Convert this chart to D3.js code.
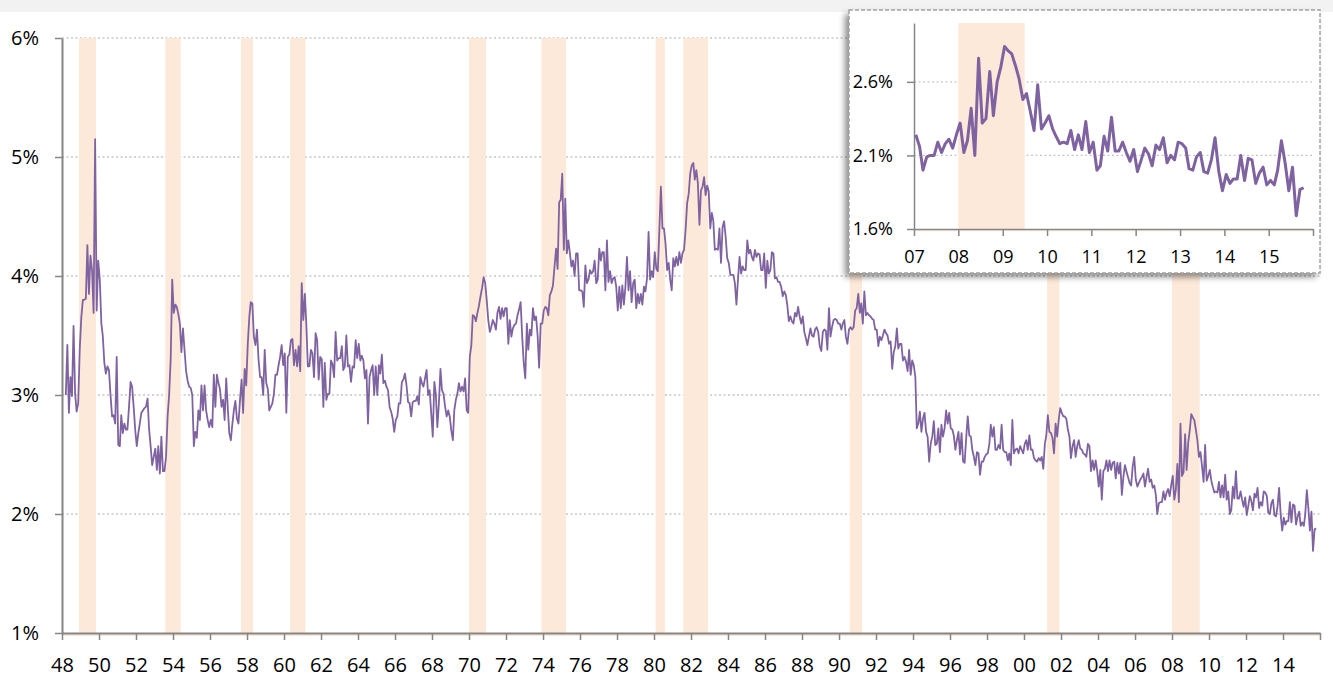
<!DOCTYPE html>
<html>
<head>
<meta charset="utf-8">
<script src="https://cdn.jsdelivr.net/npm/d3@7"></script>
<style>
  html, body { margin: 0; padding: 0; background: #fff; }
  svg { display: block; }
</style>
</head>
<body>
<svg id="chart" width="1333" height="677"></svg>
<script>
// monthly values, first one is March 1948
const firstYear = 1948
const firstMonth = 2
const rate = [
  3.00, 3.42, 2.85, 3.15, 2.99, 3.58, 3.01, 2.86, 2.93, 3.38, // 1948
  3.65, 3.80, 3.80, 3.81, 4.26, 3.85, 4.17, 4.05, 3.69, 5.15, 3.71, 4.13,
  3.97, 3.60, 3.50, 3.27, 3.18, 3.24, 3.21, 3.00, 2.82, 2.83, 2.76, 3.32, // 1950
  2.58, 2.57, 2.83, 2.68, 2.76, 2.71, 2.71, 2.90, 3.11, 3.07, 2.90, 2.71,
  2.57, 2.68, 2.76, 2.85, 2.87, 2.89, 2.90, 2.97, 2.71, 2.57, 2.41, 2.48,
  2.55, 2.37, 2.57, 2.34, 2.65, 2.36, 2.36, 2.48, 2.82, 3.00, 3.30, 3.97,
  3.69, 3.76, 3.74, 3.68, 3.60, 3.36, 3.56, 3.38, 3.20, 3.12, 3.07, 3.06,
  3.00, 2.57, 2.69, 2.64, 2.87, 2.79, 3.08, 2.87, 3.08, 2.87, 2.79, 2.73, // 1955
  2.79, 2.73, 3.17, 2.90, 3.17, 3.10, 3.05, 2.90, 2.96, 2.79, 3.14, 2.90,
  2.68, 2.62, 2.75, 2.87, 2.95, 2.80, 2.76, 2.96, 3.13, 2.85, 3.22, 3.08,
  3.43, 3.66, 3.78, 3.77, 3.49, 3.42, 3.55, 3.30, 3.15, 3.15, 3.00, 3.38,
  3.10, 3.05, 2.87, 2.90, 2.93, 3.01, 3.17, 3.17, 3.25, 3.32, 3.42, 3.25,
  3.35, 2.85, 3.32, 3.34, 3.46, 3.47, 3.25, 3.38, 3.24, 3.41, 3.20, 3.94, // 1960
  3.63, 3.85, 3.60, 3.24, 3.24, 3.38, 3.35, 3.15, 3.52, 3.46, 3.13, 3.32,
  3.30, 2.90, 3.27, 2.96, 3.01, 3.01, 3.29, 3.26, 3.15, 3.53, 3.29, 3.31,
  3.31, 3.41, 3.21, 3.24, 3.50, 3.24, 3.25, 3.11, 3.24, 3.23, 3.46, 3.31,
  3.43, 3.29, 3.33, 3.29, 3.14, 3.21, 2.76, 3.15, 3.21, 3.25, 3.00, 3.24,
  3.00, 3.25, 3.18, 3.34, 3.10, 3.12, 3.07, 3.04, 2.90, 2.86, 2.80, 2.69, // 1965
  2.79, 2.82, 2.93, 2.93, 3.11, 3.13, 3.18, 3.08, 2.94, 2.93, 2.82, 2.94,
  2.95, 2.95, 2.99, 2.92, 3.15, 3.10, 3.07, 3.14, 3.21, 3.00, 3.04, 2.85,
  2.65, 3.11, 3.01, 2.73, 2.93, 3.22, 3.04, 3.01, 2.90, 2.82, 2.87, 2.82,
  2.70, 2.62, 2.87, 2.96, 3.01, 3.10, 3.03, 3.07, 3.03, 3.14, 2.87, 2.85,
  3.32, 3.42, 3.67, 3.66, 3.62, 3.69, 3.75, 3.83, 3.90, 3.99, 3.94, 3.80, // 1970
  3.63, 3.53, 3.57, 3.63, 3.60, 3.55, 3.69, 3.74, 3.64, 3.73, 3.66, 3.73,
  3.73, 3.43, 3.63, 3.49, 3.56, 3.59, 3.60, 3.67, 3.72, 3.78, 3.49, 3.27,
  3.14, 3.60, 3.38, 3.55, 3.50, 3.73, 3.63, 3.66, 3.50, 3.23, 3.60, 3.60,
  3.71, 3.74, 3.73, 3.67, 3.84, 3.87, 3.92, 4.08, 4.23, 4.06, 4.62, 4.64,
  4.86, 4.22, 4.65, 4.19, 4.30, 4.19, 4.08, 4.13, 4.00, 4.19, 4.19, 3.88, // 1975
  3.88, 3.87, 3.74, 4.09, 3.94, 3.97, 4.05, 4.02, 4.04, 4.13, 3.94, 3.97,
  4.23, 4.13, 4.20, 4.20, 3.88, 4.30, 3.95, 4.04, 3.94, 3.98, 3.99, 3.91,
  3.71, 3.91, 3.73, 3.92, 3.76, 3.91, 4.16, 3.88, 4.04, 3.78, 3.94, 3.97,
  3.73, 3.85, 3.77, 3.85, 3.76, 3.91, 3.87, 3.98, 4.37, 3.97, 4.04, 3.99,
  4.20, 4.06, 4.04, 4.39, 4.75, 4.40, 4.40, 4.27, 4.05, 4.11, 3.97, 3.88, // 1980
  4.15, 4.08, 4.16, 4.09, 4.20, 4.11, 4.19, 4.22, 4.39, 4.61, 4.69, 4.86,
  4.93, 4.95, 4.81, 4.89, 4.78, 4.43, 4.72, 4.75, 4.83, 4.68, 4.76, 4.71,
  4.40, 4.53, 4.47, 4.22, 4.23, 4.22, 4.40, 4.11, 4.41, 4.46, 4.33, 4.15,
  4.11, 4.01, 4.01, 4.01, 3.94, 3.76, 3.97, 4.16, 4.02, 4.08, 4.05, 4.05,
  4.30, 4.19, 4.22, 4.16, 4.13, 4.22, 4.16, 4.19, 4.18, 4.05, 4.05, 4.19, // 1985
  3.90, 4.13, 4.02, 4.05, 4.20, 4.19, 3.98, 3.99, 3.95, 3.95, 3.91, 3.83,
  3.87, 3.84, 3.76, 3.62, 3.66, 3.62, 3.60, 3.69, 3.66, 3.74, 3.66, 3.60,
  3.66, 3.53, 3.48, 3.42, 3.49, 3.56, 3.50, 3.49, 3.55, 3.57, 3.53, 3.41,
  3.37, 3.53, 3.55, 3.54, 3.38, 3.73, 3.49, 3.57, 3.63, 3.64, 3.63, 3.60,
  3.60, 3.55, 3.60, 3.63, 3.49, 3.43, 3.55, 3.57, 3.55, 3.57, 3.71, 3.73, // 1990
  3.85, 3.69, 3.77, 3.60, 3.87, 3.67, 3.69, 3.67, 3.66, 3.64, 3.63, 3.55,
  3.55, 3.41, 3.49, 3.46, 3.50, 3.55, 3.52, 3.50, 3.43, 3.45, 3.22, 3.36,
  3.41, 3.56, 3.39, 3.43, 3.43, 3.29, 3.32, 3.28, 3.20, 3.38, 3.17, 3.29,
  3.25, 3.15, 2.72, 2.76, 2.86, 2.69, 2.80, 2.85, 2.69, 2.65, 2.44, 2.59,
  2.65, 2.78, 2.58, 2.59, 2.72, 2.52, 2.75, 2.65, 2.72, 2.87, 2.76, 2.85, // 1995
  2.72, 2.71, 2.66, 2.54, 2.62, 2.69, 2.50, 2.68, 2.44, 2.43, 2.64, 2.82,
  2.66, 2.65, 2.54, 2.48, 2.41, 2.52, 2.51, 2.33, 2.44, 2.44, 2.48, 2.50,
  2.51, 2.59, 2.75, 2.65, 2.73, 2.54, 2.54, 2.58, 2.55, 2.75, 2.54, 2.52,
  2.52, 2.45, 2.51, 2.41, 2.79, 2.51, 2.54, 2.55, 2.51, 2.57, 2.54, 2.51,
  2.59, 2.62, 2.54, 2.66, 2.54, 2.54, 2.47, 2.45, 2.44, 2.47, 2.45, 2.48, // 2000
  2.38, 2.59, 2.66, 2.83, 2.69, 2.68, 2.64, 2.51, 2.76, 2.65, 2.79, 2.89,
  2.85, 2.82, 2.82, 2.80, 2.71, 2.65, 2.47, 2.57, 2.62, 2.48, 2.57, 2.62,
  2.55, 2.54, 2.51, 2.50, 2.48, 2.59, 2.57, 2.36, 2.45, 2.37, 2.45, 2.36,
  2.23, 2.37, 2.12, 2.36, 2.38, 2.45, 2.36, 2.45, 2.37, 2.43, 2.44, 2.30,
  2.43, 2.34, 2.43, 2.16, 2.31, 2.41, 2.36, 2.31, 2.26, 2.24, 2.40, 2.48, // 2005
  2.29, 2.23, 2.26, 2.29, 2.31, 2.34, 2.23, 2.31, 2.38, 2.27, 2.29, 2.22,
  2.24, 2.16, 2.00, 2.09, 2.10, 2.10, 2.19, 2.12, 2.18, 2.21, 2.15, 2.24,
  2.32, 2.12, 2.20, 2.42, 2.10, 2.76, 2.32, 2.35, 2.67, 2.37, 2.60, 2.70,
  2.84, 2.81, 2.79, 2.71, 2.62, 2.48, 2.52, 2.40, 2.27, 2.58, 2.28, 2.32,
  2.37, 2.28, 2.23, 2.18, 2.19, 2.18, 2.27, 2.14, 2.24, 2.14, 2.33, 2.12, // 2010
  2.19, 2.00, 2.03, 2.23, 2.13, 2.36, 2.13, 2.13, 2.19, 2.12, 2.06, 2.14,
  1.99, 2.07, 2.15, 2.11, 2.03, 2.17, 2.14, 2.22, 2.05, 2.10, 2.07, 2.19,
  2.18, 2.15, 2.01, 2.00, 2.09, 2.12, 1.99, 1.98, 2.07, 2.22, 1.99, 1.86,
  1.97, 1.91, 1.94, 1.94, 2.10, 1.93, 2.08, 2.07, 1.91, 1.98, 2.02, 1.90,
  1.93, 1.90, 2.00, 2.20, 2.05, 1.86, 2.02, 1.69, 1.87, 1.88 // 2015
]

// recessions: first and last shaded month
const recessions = [
  ["1948-12", "1949-10"], ["1953-08", "1954-05"], ["1957-09", "1958-04"],
  ["1960-05", "1961-02"], ["1970-01", "1970-11"], ["1973-12", "1975-03"],
  ["1980-02", "1980-07"], ["1981-08", "1982-11"], ["1990-08", "1991-03"],
  ["2001-04", "2001-11"], ["2008-01", "2009-06"]
]

const yTicks = [1, 2, 3, 4, 5, 6]
const xTickYears = d3.range(1948, 2017, 2)
const insetYTicks = [1.6, 2.1, 2.6]
const insetYears = d3.range(2007, 2017)

const purple = "#7f63a1"
const shade = "#fde9d9"
const axisGray = "#868686"
const gridGray = "#c6c6c6"
const font = "'Open Sans', 'Noto Sans', sans-serif"

const svg = d3.select("#chart")
const parseMonth = d3.timeParse("%Y-%m")
const series = rate.map((v, i) => ({date: new Date(firstYear, firstMonth + i, 16), value: v}))
const spans = recessions.map(([a, b]) => {
  const s = parseMonth(a), e = parseMonth(b)
  return {start: s, end: new Date(e.getFullYear(), e.getMonth() + 1, 1)}
})

// grey strip along the top
svg.append("rect").attr("width", 1333).attr("height", 12).attr("fill", "#f2f2f2")

// ---------- main chart ----------
const x = d3.scaleTime().domain([new Date(1948, 0, 1), new Date(2016, 0, 1)]).range([62, 1320])
const y = d3.scaleLinear().domain([1, 6]).range([633, 38])

svg.append("g")
  .selectAll("line")
  .data(yTicks.filter(d => d > 1))
  .join("line")
  .attr("x1", 62).attr("x2", 1320)
  .attr("y1", d => y(d)).attr("y2", d => y(d))
  .attr("stroke", gridGray).attr("stroke-width", 1.3).attr("stroke-dasharray", "2,2.5")

svg.append("g")
  .selectAll("rect")
  .data(spans)
  .join("rect")
  .attr("x", d => x(d.start))
  .attr("width", d => x(d.end) - x(d.start))
  .attr("y", y(6))
  .attr("height", y(1) - y(6) + 3)
  .attr("fill", shade)

svg.append("line").attr("x1", 62).attr("x2", 1320).attr("y1", 635).attr("y2", 635)
  .attr("stroke", shade).attr("stroke-width", 2)

function styleAxis(g, size, width) {
  g.attr("font-family", font).attr("font-size", size)
  g.select(".domain").attr("stroke", axisGray).attr("stroke-width", width)
  g.selectAll(".tick line").attr("stroke", axisGray).attr("stroke-width", 1.5)
  g.selectAll(".tick text").attr("fill", "#000")
}

svg.append("g")
  .attr("transform", "translate(62,0)")
  .call(d3.axisLeft(y).tickValues(yTicks).tickSize(7).tickSizeOuter(0).tickPadding(16).tickFormat(d => d + "%"))
  .call(g => styleAxis(g, 20, 2))

svg.append("g")
  .attr("transform", "translate(0,633)")
  .call(d3.axisBottom(x)
    .tickValues(xTickYears.map(yr => new Date(yr, 0, 1)))
    .tickSize(7).tickSizeOuter(0).tickPadding(18)
    .tickFormat(d => d.getFullYear() < 2016 ? d3.timeFormat("%y")(d) : ""))
  .call(g => styleAxis(g, 20, 2))

svg.append("path")
  .datum(series)
  .attr("d", d3.line().x(d => x(d.date)).y(d => y(d.value)))
  .attr("fill", "none")
  .attr("stroke", purple)
  .attr("stroke-width", 1.8)
  .attr("stroke-linejoin", "round")

// ---------- inset 2007-2015 ----------
const defs = svg.append("defs")
defs.append("filter").attr("id", "shadow")
  .attr("x", "-10%").attr("y", "-10%").attr("width", "125%").attr("height", "130%")
  .append("feDropShadow")
  .attr("dx", -4).attr("dy", 4).attr("stdDeviation", 3)
  .attr("flood-color", "#000").attr("flood-opacity", 0.45)

svg.append("rect")
  .attr("x", 849).attr("y", 10).attr("width", 471).attr("height", 263)
  .attr("fill", "#fff").attr("filter", "url(#shadow)")
svg.append("rect")
  .attr("x", 849).attr("y", 10).attr("width", 471).attr("height", 263)
  .attr("fill", "none").attr("stroke", "#a3a3a3").attr("stroke-width", 1.5)
  .attr("stroke-dasharray", "4,2")

const xi = d3.scaleTime().domain([new Date(2007, 0, 1), new Date(2016, 0, 1)]).range([914, 1313])
const yi = d3.scaleLinear().domain([1.6, 3.0]).range([229, 23])
const insetStart = xi.domain()[0]

svg.append("g")
  .selectAll("line")
  .data(insetYTicks.filter(d => d > 1.6))
  .join("line")
  .attr("x1", 914).attr("x2", 1313)
  .attr("y1", d => yi(d)).attr("y2", d => yi(d))
  .attr("stroke", gridGray).attr("stroke-width", 1.3).attr("stroke-dasharray", "2,2.5")

svg.append("g")
  .selectAll("rect")
  .data(spans.filter(d => d.end > insetStart))
  .join("rect")
  .attr("x", d => xi(d.start))
  .attr("width", d => xi(d.end) - xi(d.start))
  .attr("y", yi(3.0))
  .attr("height", yi(1.6) - yi(3.0) + 2)
  .attr("fill", shade)

svg.append("line").attr("x1", 914).attr("x2", 1313).attr("y1", 230.5).attr("y2", 230.5)
  .attr("stroke", shade).attr("stroke-width", 1.5)

svg.append("g")
  .attr("transform", "translate(914,0)")
  .call(d3.axisLeft(yi).tickValues(insetYTicks).tickSize(7).tickSizeOuter(0).tickPadding(14)
    .tickFormat(d => d3.format(".1f")(d) + "%"))
  .call(g => styleAxis(g, 18, 1.5))

svg.append("g")
  .attr("transform", "translate(0,229)")
  .call(d3.axisBottom(xi)
    .tickValues(insetYears.map(yr => new Date(yr, 0, 1)))
    .tickSize(7).tickSizeOuter(0).tickPadding(14)
    .tickFormat(d => d.getFullYear() < 2016 ? d3.timeFormat("%y")(d) : ""))
  .call(g => styleAxis(g, 18, 1.5))

svg.append("path")
  .datum(series.filter(d => d.date >= insetStart))
  .attr("d", d3.line().x(d => xi(d.date)).y(d => yi(d.value)))
  .attr("fill", "none")
  .attr("stroke", purple)
  .attr("stroke-width", 3)
  .attr("stroke-linejoin", "round")
</script>
</body>
</html>
